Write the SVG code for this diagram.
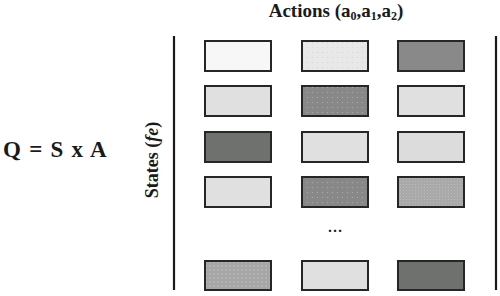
<svg xmlns="http://www.w3.org/2000/svg" width="500" height="296" viewBox="0 0 500 296">
<style>
.c{stroke:#262626;stroke-width:2}
.ax{stroke:#1a1a1a;stroke-width:2.2}
</style>
<defs>
<pattern id="d1" width="5" height="5" patternUnits="userSpaceOnUse"><rect width="5" height="5" fill="#888888"/><circle cx="2.5" cy="2.5" r="0.6" fill="#b0b0b0"/></pattern>
<pattern id="d2" width="5" height="5" patternUnits="userSpaceOnUse"><rect width="5" height="5" fill="#e8e8e8"/><circle cx="2.5" cy="2.5" r="0.6" fill="#d4d4d4"/></pattern>
<pattern id="d3" width="3" height="3" patternUnits="userSpaceOnUse"><rect width="3" height="3" fill="#a9a9a9"/><circle cx="1.5" cy="1.5" r="0.6" fill="#bdbdbd"/></pattern>
<pattern id="d4" width="4" height="4" patternUnits="userSpaceOnUse"><rect width="4" height="4" fill="#a6a6a6"/><circle cx="2" cy="2" r="0.7" fill="#c4c4c4"/></pattern>
</defs>
<g font-family="Liberation Serif, Times New Roman, serif" font-weight="bold" fill="#1a1a1a">
<text x="336" y="17" font-size="19" text-anchor="middle">Actions (a<tspan font-size="12" dy="3">0</tspan><tspan dy="-3">,a</tspan><tspan font-size="12" dy="3">1</tspan><tspan dy="-3">,a</tspan><tspan font-size="12" dy="3">2</tspan><tspan dy="-3">)</tspan></text>
<text x="3" y="157" font-size="23" word-spacing="2.5">Q = S x A</text>
<text transform="translate(158,160) rotate(-90)" font-size="18" text-anchor="middle">States (<tspan font-style="italic">fe</tspan>)</text>
<text x="335" y="232" font-size="15" text-anchor="middle">…</text>
</g>
<g id="axes">
<line class="ax" x1="174" y1="36" x2="174" y2="290"/>
<line class="ax" x1="496" y1="36" x2="496" y2="290"/>
</g>
<g id="r1c1"><rect class="c" x="205" y="41" width="66" height="30" fill="#f6f7f6"/></g>
<g id="r1c2"><rect class="c" x="302" y="41" width="66" height="30" fill="url(#d2)"/></g>
<g id="r1c3"><rect class="c" x="398" y="41" width="66" height="30" fill="#898989"/></g>
<g id="r2c1"><rect class="c" x="205" y="86" width="66" height="30" fill="#e0e0e0"/></g>
<g id="r2c2"><rect class="c" x="302" y="86" width="66" height="30" fill="url(#d1)"/></g>
<g id="r2c3"><rect class="c" x="398" y="86" width="66" height="30" fill="#e0e0e0"/></g>
<g id="r3c1"><rect class="c" x="205" y="132" width="66" height="30" fill="#6f716f"/></g>
<g id="r3c2"><rect class="c" x="302" y="132" width="66" height="30" fill="#e0e0e0"/></g>
<g id="r3c3"><rect class="c" x="398" y="132" width="66" height="30" fill="#dcdcdc"/></g>
<g id="r4c1"><rect class="c" x="205" y="177" width="66" height="30" fill="#e0e0e0"/></g>
<g id="r4c2"><rect class="c" x="302" y="177" width="66" height="30" fill="url(#d1)"/></g>
<g id="r4c3"><rect class="c" x="398" y="177" width="66" height="30" fill="url(#d3)"/></g>
<g id="r5c1"><rect class="c" x="205" y="261" width="66" height="29" fill="url(#d4)"/></g>
<g id="r5c2"><rect class="c" x="302" y="261" width="66" height="29" fill="#e0e0e0"/></g>
<g id="r5c3"><rect class="c" x="398" y="261" width="66" height="29" fill="#6f716f"/></g>
</svg>
